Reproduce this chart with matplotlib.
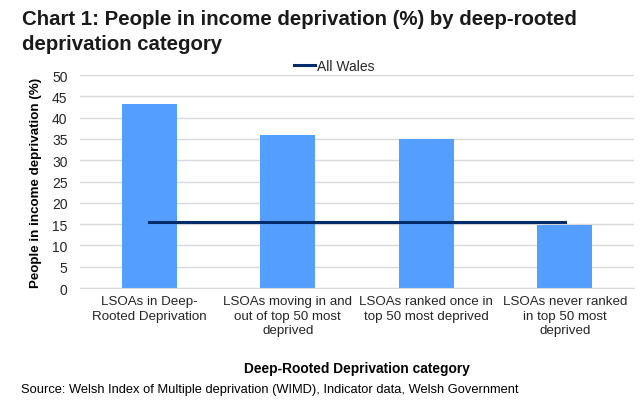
import matplotlib
matplotlib.use("Agg")
import matplotlib.pyplot as plt
import numpy as np

categories = ["LSOAs in Deep-\nRooted Deprivation",
              "LSOAs moving in and\nout of top 50 most\ndeprived",
              "LSOAs ranked once in\ntop 50 most deprived",
              "LSOAs never ranked\nin top 50 most\ndeprived"]
values = [43.2, 35.9, 35.0, 14.9]
all_wales = [15.6, 15.6, 15.6, 15.6]
yticks = list(range(0, 51, 5))

plt.rcParams['font.family'] = ['Liberation Sans', 'DejaVu Sans']
txt = "#262626"

fig = plt.figure(figsize=(6.42, 4.10), dpi=100)
ax = fig.add_axes([0.1246, 0.295, 0.8629, 0.5196])
x = np.arange(len(categories))
ax.bar(x, values, width=0.4, color="#549EFF", zorder=2)
ax.plot(x, all_wales, color="#002D6A", lw=2.2, zorder=3, label="All Wales")
ax.set_xlim(-0.5, 3.5)
ax.set_ylim(0, 50)
ax.set_yticks(yticks)
ax.set_xticks(x)
ax.set_xticklabels(categories, fontsize=9.6, color=txt, va="top", linespacing=1.3)
ax.tick_params(axis="y", labelsize=10, colors=txt, length=0, pad=9)
ax.tick_params(axis="x", length=0, pad=5)
ax.grid(axis="y", color="#D9D9D9", lw=1, zorder=0)
for s in ["top", "right", "left"]:
    ax.spines[s].set_visible(False)
ax.spines["bottom"].set_color("#D9D9D9")
ax.set_ylabel("People in income deprivation (%)", fontsize=9.6, fontweight="bold", labelpad=7, color="black")
ax.set_xlabel("Deep-Rooted Deprivation category", fontsize=9.9, fontweight="bold", labelpad=18, color="black")
ax.legend(loc="lower center", bbox_to_anchor=(0.459, 0.985), frameon=False, fontsize=10,
          handlelength=1.45, handletextpad=0.15, borderaxespad=0, labelcolor=txt)

fig.text(0.034, 0.975, "Chart 1: People in income deprivation (%) by deep-rooted\ndeprivation category",
         fontsize=14.7, fontweight="bold", va="top", ha="left", linespacing=1.35, color="#1a1a1a")
fig.text(0.033, 0.049, "Source: Welsh Index of Multiple deprivation (WIMD), Indicator data, Welsh Government",
         fontsize=9.3, ha="left", va="center", color="black")

fig.savefig("out.png", dpi=100)
